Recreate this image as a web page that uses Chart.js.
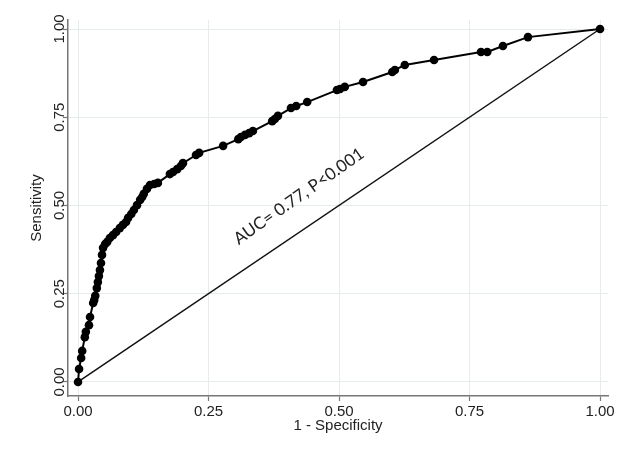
<!DOCTYPE html>
<html>
<head>
<meta charset="utf-8">
<script src="https://cdn.jsdelivr.net/npm/chart.js@4/dist/chart.umd.min.js"></script>
<style>
    html, body { margin: 0; padding: 0; background: #fff; }
    #wrap { width: 630px; height: 459px; }
</style>
</head>
<body>
<div id="wrap"><canvas id="chart"></canvas></div>
<script>
// ROC curve points (1 - specificity, sensitivity)
const fprX = [0, 0.002, 0.006, 0.008, 0.013, 0.015, 0.021, 0.023, 0.029, 0.031,
    0.033, 0.036, 0.038, 0.040, 0.042, 0.044, 0.046, 0.048, 0.052, 0.056,
    0.061, 0.067, 0.073, 0.080, 0.086, 0.092, 0.096, 0.102, 0.107, 0.113,
    0.119, 0.123, 0.126, 0.132, 0.138, 0.146, 0.153, 0.176, 0.182, 0.190,
    0.197, 0.201, 0.226, 0.232, 0.278, 0.307, 0.312, 0.320, 0.328, 0.335,
    0.372, 0.377, 0.383, 0.408, 0.418, 0.439, 0.496, 0.502, 0.511, 0.546,
    0.602, 0.607, 0.626, 0.682, 0.772, 0.784, 0.814, 0.862, 1];
const tprY = [0, 0.037, 0.068, 0.088, 0.127, 0.142, 0.161, 0.184, 0.224, 0.232,
    0.244, 0.266, 0.283, 0.300, 0.317, 0.337, 0.360, 0.380, 0.391, 0.397,
    0.408, 0.416, 0.425, 0.436, 0.445, 0.453, 0.465, 0.476, 0.487, 0.501,
    0.516, 0.524, 0.533, 0.547, 0.558, 0.561, 0.564, 0.589, 0.595, 0.603,
    0.612, 0.620, 0.643, 0.649, 0.669, 0.688, 0.694, 0.700, 0.705, 0.711,
    0.739, 0.745, 0.754, 0.776, 0.782, 0.793, 0.827, 0.830, 0.836, 0.850,
    0.878, 0.884, 0.898, 0.912, 0.935, 0.935, 0.952, 0.977, 1];

// Reference (chance) line
const refX = [0, 1];
const refY = [0, 1];

const tickValues = [0, 0.25, 0.5, 0.75, 1];
const xTitle = '1 - Specificity';
const yTitle = 'Sensitivity';
const aucText = 'AUC= 0.77, P<0.001';

const toPoints = (xs, ys) => xs.map((x, i) => ({ x: x, y: ys[i] }));

// Fixed ticks like Stata: only 0, .25, .5, .75, 1
const setTicks = (scale) => {
    scale.ticks = tickValues.map(v => ({ value: v }));
};

// Rotated AUC annotation placed in data coordinates
const aucLabel = {
    id: 'aucLabel',
    afterDatasetsDraw(chart) {
        const ctx = chart.ctx;
        const px = chart.scales.x.getPixelForValue(0.423);
        const py = chart.scales.y.getPixelForValue(0.526);
        ctx.save();
        ctx.translate(px, py);
        ctx.rotate(-35 * Math.PI / 180);
        ctx.font = '17px Lato';
        ctx.fillStyle = '#222';
        ctx.textAlign = 'center';
        ctx.textBaseline = 'middle';
        ctx.fillText(aucText, 0, 0);
        ctx.restore();
    }
};

Chart.defaults.font.family = '"Liberation Sans", Arial, sans-serif';
Chart.defaults.color = '#333';

new Chart(document.getElementById('chart'), {
    type: 'scatter',
    data: {
        datasets: [{
            data: toPoints(fprX, tprY),
            showLine: true,
            borderColor: '#000',
            borderWidth: 2,
            backgroundColor: '#000',
            pointRadius: 4.3,
            pointBorderWidth: 0,
            order: 1
        }, {
            data: toPoints(refX, refY),
            showLine: true,
            borderColor: '#111',
            borderWidth: 1.5,
            pointRadius: 0,
            order: 2
        }]
    },
    options: {
        responsive: true,
        maintainAspectRatio: false,
        animation: false,
        layout: {
            padding: { left: 0, right: 22, top: 20, bottom: 0 }
        },
        plugins: {
            legend: { display: false },
            tooltip: { enabled: false }
        },
        scales: {
            x: {
                type: 'linear',
                min: -0.0192,
                max: 1.0153,
                afterBuildTicks: setTicks,
                afterFit: (scale) => { scale.height = 63; },
                ticks: {
                    padding: 2,
                    font: { size: 15 },
                    color: '#222',
                    maxRotation: 0,
                    callback: (v) => v.toFixed(2)
                },
                grid: {
                    color: '#e5ecee',
                    lineWidth: 1,
                    tickLength: 5,
                    tickColor: '#777',
                    tickWidth: 1.2
                },
                border: { color: '#777', width: 1.5 },
                title: {
                    display: true,
                    text: xTitle,
                    font: { size: 15 },
                    color: '#222',
                    padding: { top: 0, bottom: 24 }
                }
            },
            y: {
                type: 'linear',
                min: -0.0397,
                max: 1.0255,
                afterBuildTicks: setTicks,
                afterFit: (scale) => { scale.width = 68; },
                ticks: {
                    minRotation: 90,
                    maxRotation: 90,
                    crossAlign: 'center',
                    padding: -11,
                    font: { size: 15 },
                    color: '#222',
                    callback: (v) => v.toFixed(2)
                },
                grid: {
                    color: '#e5ecee',
                    lineWidth: 1,
                    tickLength: 5,
                    tickColor: '#777',
                    tickWidth: 1.2
                },
                border: { color: '#777', width: 1.5 },
                title: {
                    display: true,
                    text: yTitle,
                    font: { size: 15 },
                    color: '#222',
                    padding: { top: 28, bottom: 0 }
                }
            }
        }
    },
    plugins: [aucLabel]
});
</script>
</body>
</html>
